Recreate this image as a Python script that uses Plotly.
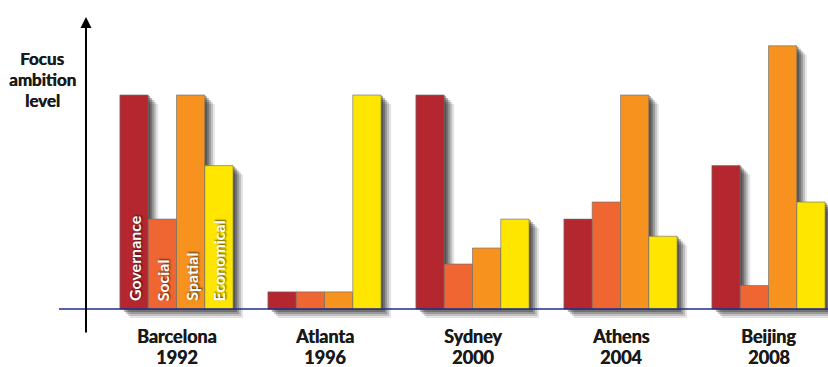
import plotly.graph_objects as go

# Olympic host cities and the focus ambition level per policy field
cities = ["Barcelona", "Atlanta", "Sydney", "Athens", "Beijing"]
years = ["1992", "1996", "2000", "2004", "2008"]
fields = ["Governance", "Social", "Spatial", "Economical"]

governance = [10.0, 0.8, 10.0, 4.2, 6.7]
social = [4.2, 0.8, 2.1, 5.0, 1.1]
spatial = [10.0, 0.8, 2.85, 10.0, 12.3]
economical = [6.7, 10.0, 4.2, 3.4, 5.0]

series = [governance, social, spatial, economical]
colors = ["#B5272F", "#F06632", "#F7921E", "#FFE600"]

W, H = 828, 367
# pixel geometry of the plot
px_per_cat = 148.0
x0_px = 176.5          # centre of first group
base_px = 309.0        # baseline row
px_per_unit = 21.4

x_rng = [(0 - x0_px) / px_per_cat, (W - x0_px) / px_per_cat]
y_rng = [-(H - base_px) / px_per_unit, base_px / px_per_unit]

bw = 28.3 / px_per_cat          # bar width in category units
offsets = [-2 * bw, -bw, 0.0, bw]
xs = list(range(len(cities)))

fig = go.Figure()

# soft drop shadows, several translucent layers (offset right and down)
for k, a in [(10, 0.12), (8, 0.18), (6, 0.25), (4, 0.32), (2, 0.35)]:
    dx = k / px_per_cat
    dy = (k - 1) / px_per_unit
    for vals, off in zip(series, offsets):
        fig.add_trace(go.Bar(
            x=xs, y=list(vals), base=[-dy] * len(vals),
            width=bw, offset=off + dx,
            marker=dict(color=f"rgba(30,30,30,{a})", line=dict(width=0)),
            hoverinfo="skip", showlegend=False,
        ))

for name, vals, off, col in zip(fields, series, offsets, colors):
    fig.add_trace(go.Bar(
        x=xs, y=vals, name=name, width=bw, offset=off,
        marker=dict(color=col, line=dict(color="rgba(110,110,110,0.8)", width=0.8)),
        showlegend=False,
    ))

# baseline
fig.add_shape(type="line", x0=(59 - x0_px) / px_per_cat, x1=x_rng[1], y0=0, y1=0,
              line=dict(color="#1E2D8A", width=1.6), layer="above")

# vertical arrow (axis)
ax_x = (86 - x0_px) / px_per_cat
fig.add_annotation(x=ax_x, y=(base_px - 17) / px_per_unit,
                   ax=ax_x, ay=-(334 - base_px) / px_per_unit,
                   xref="x", yref="y", axref="x", ayref="y",
                   text="", showarrow=True, arrowhead=2, arrowsize=1.1,
                   arrowwidth=2, arrowcolor="#000000")

heavy = "0.5px 0 0 #1a1a1a"

# axis title, one line per annotation
for txt, ypx in zip(["Focus", "ambition", "level"], [58, 79, 100]):
    fig.add_annotation(x=(42 - x0_px) / px_per_cat, y=(base_px - ypx) / px_per_unit,
                       text=f"<b>{txt}</b>", showarrow=False,
                       font=dict(family="Lato", size=17, color="#1a1a1a", shadow=heavy),
                       xanchor="center", yanchor="middle")

# category labels
for i, (c, yr) in enumerate(zip(cities, years)):
    for txt, ypx in [(c, 336), (yr, 357)]:
        fig.add_annotation(x=i, y=(base_px - ypx) / px_per_unit,
                           text=f"<b>{txt}</b>", showarrow=False,
                           font=dict(family="Lato", size=18, color="#1a1a1a", shadow=heavy),
                           xanchor="center", yanchor="middle")

# field names inside the first group
for name, off in zip(fields, offsets):
    fig.add_annotation(x=0 + off + bw / 2, y=6 / px_per_unit,
                       text=f"<b>{name}</b>", showarrow=False, textangle=-90,
                       font=dict(family="Lato", size=16, color="white",
                                 shadow="1px 1px 2px rgba(0,0,0,0.7)"),
                       xanchor="center", yanchor="bottom")

fig.update_layout(
    width=W, height=H, autosize=False,
    margin=dict(l=0, r=0, t=0, b=0),
    barmode="overlay",
    plot_bgcolor="white", paper_bgcolor="white",
    xaxis=dict(range=x_rng, visible=False, fixedrange=True),
    yaxis=dict(range=y_rng, visible=False, fixedrange=True),
)

fig.write_html("out.html")
